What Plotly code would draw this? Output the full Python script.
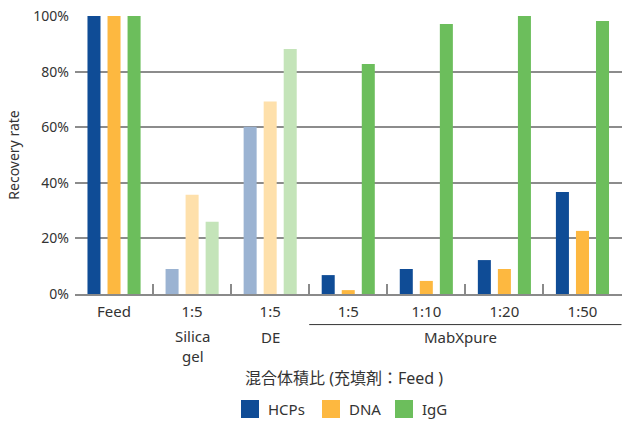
import plotly.graph_objects as go

categories = ["Feed", "1:5 ", "1:5  ", "1:5", "1:10", "1:20", "1:50"]
tick_labels = ["Feed", "1:5", "1:5", "1:5", "1:10", "1:20", "1:50"]
hcps = [100, 9.0, 60.2, 6.8, 9.0, 12.2, 36.7]
dna = [100, 35.7, 69.2, 1.4, 4.7, 9.0, 22.7]
igg = [100, 26.0, 88.1, 82.7, 97.1, 100, 98.2]
faded = [False, True, True, False, False, False, False]

series = [
    ("HCPs", hcps, "#0F4C96", "#9BB3D2"),
    ("DNA", dna, "#FDB840", "#FEE0AB"),
    ("IgG", igg, "#6CBE5C", "#C4E4B9"),
]

FONT = "Noto Sans, Noto Sans CJK JP, sans-serif"
TXT = "#333333"
fig = go.Figure()
for name, vals, col, light in series:
    fig.add_trace(go.Bar(
        x=categories, y=vals, name=name, showlegend=False,
        marker=dict(color=[light if f else col for f in faded], line=dict(width=0)),
    ))

fig.update_layout(
    width=622, height=423,
    margin=dict(l=75, r=0, t=16, b=129, autoexpand=False),
    plot_bgcolor="white", paper_bgcolor="white",
    barmode="group", bargap=0.23, bargroupgap=0.35,
    font=dict(family=FONT, color=TXT, size=15),
)
fig.update_xaxes(
    type="category", tickvals=categories, ticktext=tick_labels,
    ticks="inside", tickson="boundaries", ticklen=10, tickcolor="#8a8a8a", tickwidth=1.5,
    showline=True, linecolor="#8a8a8a", linewidth=1.5,
    tickfont=dict(size=15, color=TXT), ticklabelstandoff=3,
    showgrid=False,
)
fig.update_yaxes(
    range=[0, 100], tickvals=[0, 20, 40, 60, 80, 100],
    ticktext=["0%", "20%", "40%", "60%", "80%", "100%"],
    showgrid=True, gridcolor="#8c8c8c", gridwidth=1.5,
    zeroline=False, showline=False, ticks="",
    tickfont=dict(size=14, color=TXT), ticklabelstandoff=5,
    title=dict(text="Recovery rate", font=dict(size=14, color=TXT), standoff=10),
)

# second-level group labels
ylab = -0.1547
fig.add_annotation(x=1, y=-0.108, xref="x", yref="paper", text="Silica<br>gel",
                   showarrow=False, xanchor="center", yanchor="top", font=dict(size=15, color=TXT))
fig.add_annotation(x=2, y=ylab, xref="x", yref="paper", text="DE",
                   showarrow=False, xanchor="center", yanchor="middle", font=dict(size=15, color=TXT))
fig.add_annotation(x=0.704, y=ylab, xref="paper", yref="paper", text="MabXpure",
                   showarrow=False, xanchor="center", yanchor="middle", font=dict(size=15, color=TXT))
fig.add_shape(type="line", xref="x", yref="paper", x0=2.5, x1=6.5, y0=-0.11, y1=-0.11,
              line=dict(color=TXT, width=1))
fig.add_annotation(x=0.307, y=-0.302, xref="paper", yref="paper",
                   text="混合体積比 (充填剤：Feed )", showarrow=False,
                   xanchor="left", yanchor="middle",
                   font=dict(size=16, color=TXT))

# legend (drawn manually to match spacing)
legend_x = [0.3035, 0.4516, 0.585]
sq_w = 0.0329
for (name, _, col, _), lx in zip(series, legend_x):
    fig.add_shape(type="rect", xref="paper", yref="paper", x0=lx, x1=lx + sq_w,
                  y0=-0.446, y1=-0.3813, fillcolor=col, line=dict(width=0))
    fig.add_annotation(x=lx + sq_w + 0.0128, y=-0.4137, xref="paper", yref="paper", text=name,
                       showarrow=False, xanchor="left", yanchor="middle",
                       font=dict(size=15, color=TXT))

fig.write_html("out.html", config={"displayModeBar": False},
               post_script="document.body.style.margin='0';document.body.style.overflow='hidden';")
